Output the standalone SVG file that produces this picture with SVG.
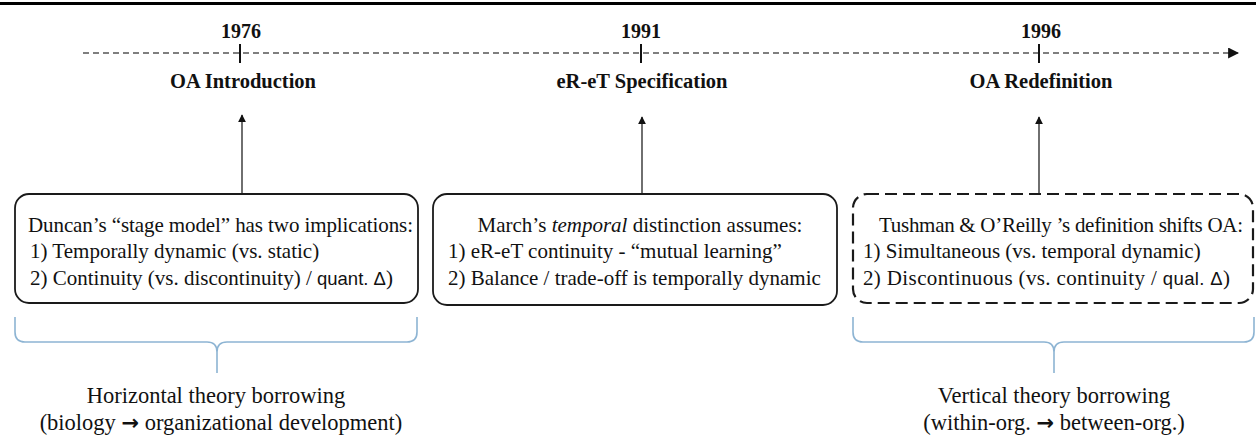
<svg xmlns="http://www.w3.org/2000/svg" width="1256" height="438" viewBox="0 0 1256 438">
  <style>
    .year { font-family: "Liberation Serif", "Times New Roman", serif; font-weight: bold; font-size: 20px; fill: #111; text-anchor: middle; }
    .title { font-family: "Liberation Serif", "Times New Roman", serif; font-weight: bold; font-size: 20.5px; fill: #111; text-anchor: middle; }
    .body { font-family: "Liberation Serif", "Times New Roman", serif; font-size: 21px; fill: #111; }
    .sans { font-family: "Liberation Sans", Arial, sans-serif; font-size: 18.5px; }
    .foot { font-family: "Liberation Serif", "Times New Roman", serif; font-size: 22.5px; fill: #111; text-anchor: middle; }
    .arr { font-family: "DejaVu Sans", sans-serif; font-weight: bold; font-size: 21px; }
    .box { fill: #fff; stroke: #1a1a1a; stroke-width: 1.8; }
    .dbox { fill: #fff; stroke: #1a1a1a; stroke-width: 2.2; stroke-dasharray: 12 6; }
    .up { stroke: #333; stroke-width: 1.4; fill: none; marker-end: url(#head); }
    .brace { fill: none; stroke: #8db4d3; stroke-width: 1.6; }
    .tick { stroke: #111; stroke-width: 2; }
  </style>
  <defs>
    <marker id="head" viewBox="0 0 10 10" refX="9" refY="5" markerWidth="8" markerHeight="8" markerUnits="userSpaceOnUse" orient="auto">
      <path d="M0,0 L10,5 L0,10 Z" fill="#111"/>
    </marker>
    <marker id="thead" viewBox="0 0 10 10" refX="9" refY="5" markerWidth="11" markerHeight="11" markerUnits="userSpaceOnUse" orient="auto">
      <path d="M0,0 L10,5 L0,10 Z" fill="#111"/>
    </marker>
  </defs>

  <rect x="0" y="2" width="1256" height="3" fill="#000"/>

  <g id="connectors">
    <line x1="83" y1="53" x2="1238" y2="53" stroke="#555" stroke-width="1.5" stroke-dasharray="6 4" marker-end="url(#thead)"/>
    <line class="tick" x1="240" y1="44" x2="240" y2="63"/>
    <line class="tick" x1="641" y1="44" x2="641" y2="63"/>
    <line class="tick" x1="1039" y1="44" x2="1039" y2="63"/>
    <line class="up" x1="242" y1="194" x2="242" y2="115"/>
    <line class="up" x1="642" y1="194" x2="642" y2="117"/>
    <line class="up" x1="1039" y1="194" x2="1039" y2="117"/>
    <path class="brace" d="M15,317 L15,332 Q15,342 25,342 L207,342 Q217,342 217,352 L217,373 M217,352 Q217,342 227,342 L407,342 Q417,342 417,332 L417,317"/>
    <path class="brace" d="M853,317 L853,332 Q853,342 863,342 L1044,342 Q1054,342 1054,352 L1054,373 M1054,352 Q1054,342 1064,342 L1244,342 Q1254,342 1254,332 L1254,317"/>
  </g>

  <g id="t1976">
    <text class="year" x="241" y="38">1976</text>
    <text class="title" x="243" y="88">OA Introduction</text>
  </g>
  <g id="t1991">
    <text class="year" x="641" y="38">1991</text>
    <text class="title" x="642" y="88">eR-eT Specification</text>
  </g>
  <g id="t1996">
    <text class="year" x="1041" y="38">1996</text>
    <text class="title" x="1041" y="88">OA Redefinition</text>
  </g>

  <g id="box1">
    <rect class="box" x="15" y="194" width="403" height="109" rx="14"/>
    <text class="body" x="28" y="232" textLength="385">Duncan’s “stage  model” has two implications:</text>
    <text class="body" x="30" y="258">1) Temporally dynamic (vs. static)</text>
    <text class="body" x="30" y="285">2) Continuity (vs. discontinuity) / <tspan class="sans">quant. Δ</tspan>)</text>
  </g>

  <g id="box2">
    <rect class="box" x="433" y="194" width="404" height="111" rx="14"/>
    <text class="body" x="640" y="232" text-anchor="middle">March’s <tspan font-style="italic">temporal</tspan> distinction assumes:</text>
    <text class="body" x="448" y="258">1) eR-eT continuity - “mutual learning”</text>
    <text class="body" x="448" y="285">2) Balance / trade-off  is temporally dynamic</text>
  </g>

  <g id="box3">
    <rect class="dbox" x="853" y="194" width="400" height="109" rx="14"/>
    <text class="body" x="879" y="232" textLength="364">Tushman &amp; O’Reilly ’s definition shifts OA:</text>
    <text class="body" x="863" y="258">1) Simultaneous (vs. temporal dynamic)</text>
    <text class="body" x="863" y="285" textLength="367">2) Discontinuous (vs. continuity / <tspan class="sans">qual. Δ</tspan>)</text>
  </g>

  <g id="foot1">
    <text class="foot" x="216" y="403">Horizontal theory borrowing</text>
    <text class="foot" x="221" y="430">(biology <tspan class="arr">→</tspan> organizational development)</text>
  </g>
  <g id="foot2">
    <text class="foot" x="1054" y="403">Vertical theory borrowing</text>
    <text class="foot" x="1054" y="430">(within-org. <tspan class="arr">→</tspan> between-org.)</text>
  </g>
</svg>
